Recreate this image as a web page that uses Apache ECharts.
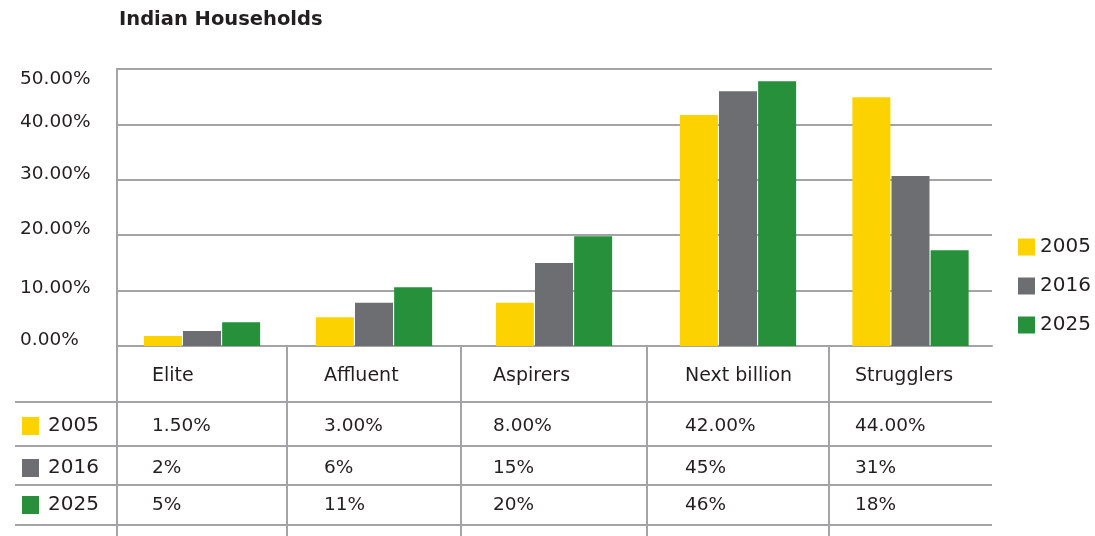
<!DOCTYPE html>
<html>
<head>
<meta charset="utf-8">
<title>Indian Households</title>
<script src="https://cdn.jsdelivr.net/npm/echarts@6/dist/echarts.min.js"></script>
<style>
  html, body { margin: 0; padding: 0; background: #fff; }
  #chart { width: 1095px; height: 536px; }
</style>
</head>
<body>
<div id="chart"></div>
<script>
// data
const categories = ['Elite', 'Affluent', 'Aspirers', 'Next billion', 'Strugglers'];
const years = ['2005', '2016', '2025'];
// bar heights as drawn
const bars2005 = [1.8, 5.2, 7.8, 41.7, 44.9];
const bars2016 = [2.7, 7.8, 15.0, 46.0, 30.7];
const bars2025 = [4.3, 10.6, 19.8, 47.8, 17.3];
// values printed in the table
const table2005 = ['1.50%', '3.00%', '8.00%', '42.00%', '44.00%'];
const table2016 = ['2%', '6%', '15%', '45%', '31%'];
const table2025 = ['5%', '11%', '20%', '46%', '18%'];
const yMax = 50;
const yStep = 10;

const colors = ['#fcd200', '#6d6e71', '#26913a'];
const textColor = '#231f20';
const lineColor = '#a2a4a7';
const font = 'DejaVu Sans';

// layout
const colEdges = [117, 287, 461, 647, 829, 992];
const plotTop = 69;
const baseY = 346;
const rowLines = [402, 446, 485, 525];
const headerY = 376;
const rowY = [426, 468, 505];
const textX = [152, 324, 493, 685, 855];

const barSets = [bars2005, bars2016, bars2025];
const tableSets = [table2005, table2016, table2025];

// small per-label nudges so the tick labels sit like the original
const tickStyle = pad => ({ fontFamily: font, fontSize: 18.5, color: textColor, padding: pad });
const tickRich = {
  t: tickStyle([20, 0, 0, 0]),
  m: tickStyle([0, 0, 4, 0]),
  n: tickStyle([0, 0, 12, 0])
};
const tickKey = v => (v === yMax ? 't' : (v === 40 || v === 10) ? 'm' : 'n');

const grids = [], xAxes = [], yAxes = [], series = [];
categories.forEach((cat, i) => {
  grids.push({
    left: colEdges[i],
    width: colEdges[i + 1] - colEdges[i],
    top: plotTop,
    height: baseY - plotTop
  });
  xAxes.push({
    type: 'category',
    gridIndex: i,
    data: [cat],
    axisLine: { show: true, lineStyle: { color: lineColor, width: 2 } },
    axisTick: { show: false },
    axisLabel: { show: false }
  });
  yAxes.push({
    type: 'value',
    gridIndex: i,
    min: 0,
    max: yMax,
    interval: yStep,
    axisLine: { show: false },
    axisTick: { show: false },
    splitLine: { lineStyle: { color: lineColor, width: 2 } },
    axisLabel: {
      show: i === 0,
      align: 'left',
      margin: 97,
      formatter: v => '{' + tickKey(v) + '|' + v.toFixed(2) + '%}',
      rich: tickRich
    }
  });
  years.forEach((y, k) => {
    series.push({
      name: y,
      type: 'bar',
      xAxisIndex: i,
      yAxisIndex: i,
      barWidth: 38,
      barGap: '3%',
      itemStyle: { color: colors[k] },
      data: [barSets[k][i]]
    });
  });
});

// data table under the plot
const graphic = [];
const line = (x1, y1, x2, y2) => ({
  type: 'line',
  shape: { x1, y1, x2, y2 },
  style: { stroke: lineColor, lineWidth: 2 },
  z: 10
});
graphic.push(line(colEdges[0], plotTop - 1, colEdges[0], 536));
colEdges.slice(1, -1).forEach(x => graphic.push(line(x, baseY, x, 536)));
rowLines.forEach(y => graphic.push(line(15, y, colEdges[colEdges.length - 1], y)));

const label = (text, x, y, size) => ({
  type: 'text',
  style: { text, x, y, fill: textColor, font: size + 'px "' + font + '"', verticalAlign: 'middle' },
  z: 10
});
categories.forEach((cat, i) => graphic.push(label(cat, textX[i], headerY, 19)));
years.forEach((y, k) => {
  graphic.push({
    type: 'rect',
    shape: { x: 22, y: rowY[k] - 9, width: 17, height: 18 },
    style: { fill: colors[k] },
    z: 10
  });
  graphic.push(label(y, 48, rowY[k], 20));
  tableSets[k].forEach((v, i) => graphic.push(label(v, textX[i], rowY[k], 18.5)));
});

const chart = echarts.init(document.getElementById('chart'));
chart.setOption({
  animation: false,
  title: {
    text: 'Indian Households',
    left: 114,
    top: 5,
    textStyle: { fontFamily: font, fontWeight: 'bold', fontSize: 19.5, color: textColor }
  },
  legend: {
    data: years,
    orient: 'vertical',
    left: 1013,
    top: 232,
    icon: 'rect',
    itemWidth: 17,
    itemHeight: 17,
    itemGap: 19,
    textStyle: { fontFamily: font, fontSize: 20, color: textColor }
  },
  grid: grids,
  xAxis: xAxes,
  yAxis: yAxes,
  series: series,
  graphic: graphic
});
</script>
</body>
</html>
